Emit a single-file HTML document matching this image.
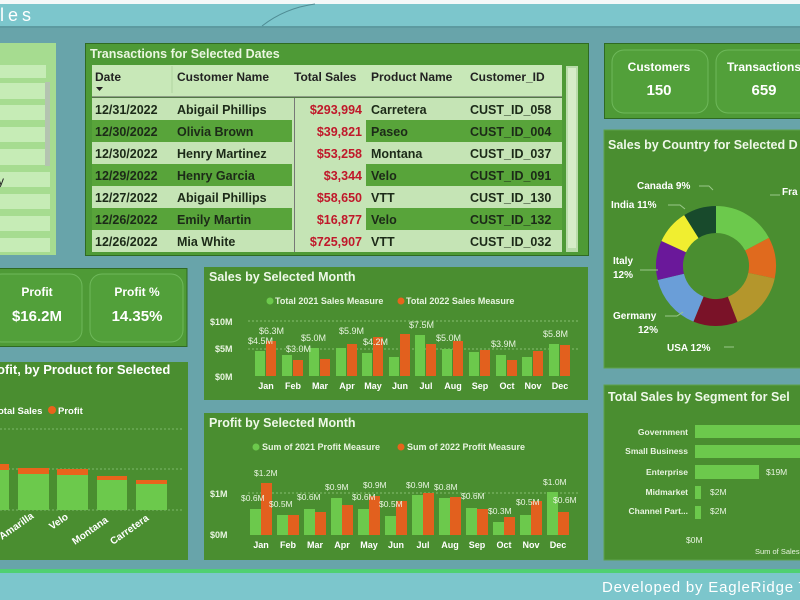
<!DOCTYPE html>
<html><head><meta charset="utf-8"><style>
html,body{margin:0;padding:0;width:800px;height:600px;overflow:hidden;background:#68a4aa}
svg{display:block;font-family:"Liberation Sans",sans-serif}
</style></head><body>
<svg width="800" height="600" viewBox="0 0 800 600" xmlns="http://www.w3.org/2000/svg">
<rect width="800" height="600" fill="#68a4aa"/>
<rect y="0" width="800" height="4" fill="#f4f8f8"/>
<rect y="4" width="800" height="22" fill="#7cc6cc"/>
<rect y="26" width="800" height="2" fill="#5d9aa0"/>
<path d="M262,26 Q285,8 315,4" stroke="#4f8c94" fill="none" stroke-width="1"/>
<text x="0" y="21" fill="#fff" font-size="18" letter-spacing="4">les</text>

<!-- left slicer -->
<rect x="0" y="43" width="56" height="212" fill="#a6dc90"/>
<g fill="#c6ecb6">
<rect x="0" y="65" width="46" height="13"/><rect x="0" y="83" width="46" height="16"/><rect x="0" y="105" width="46" height="15"/><rect x="0" y="127" width="46" height="15"/><rect x="0" y="149" width="46" height="16"/><rect x="0" y="172" width="50" height="15"/><rect x="0" y="194" width="50" height="15"/><rect x="0" y="216" width="50" height="15"/><rect x="0" y="238" width="50" height="14"/>
</g>
<rect x="45" y="82" width="5" height="84" fill="#b4c4b0"/>
<text x="-2" y="185" font-size="12" fill="#222">y</text>

<!-- transactions -->
<rect x="85.5" y="43.5" width="503" height="212" fill="#4e9a36" stroke="#2f6a22"/>
<text x="90" y="58" font-size="12.5" font-weight="bold" fill="#eaf6e0">Transactions for Selected Dates</text>
<rect x="92" y="65" width="470" height="32" fill="#c8e8b8"/>
<line x1="172" y1="66" x2="172" y2="93" stroke="#b0d4a0"/>
<line x1="92" y1="97" x2="562" y2="97" stroke="#555"/>
<path d="M96,87 h7 l-3.5,4z" fill="#222"/>
<g font-size="12" font-weight="bold" fill="#222">
<text x="95" y="81">Date</text><text x="177" y="81">Customer Name</text><text x="294" y="81">Total Sales</text><text x="371" y="81">Product Name</text><text x="470" y="81">Customer_ID</text>
</g>
<g>
<rect x="92" y="98" width="470" height="22" fill="#c5e4b5"/>
<rect x="92" y="120" width="470" height="22" fill="#58a43a"/>
<rect x="92" y="142" width="470" height="22" fill="#c5e4b5"/>
<rect x="92" y="164" width="470" height="22" fill="#58a43a"/>
<rect x="92" y="186" width="470" height="22" fill="#c5e4b5"/>
<rect x="92" y="208" width="470" height="22" fill="#58a43a"/>
<rect x="92" y="230" width="470" height="22" fill="#c5e4b5"/>
<rect x="292" y="120" width="74" height="22" fill="#c5e4b5"/>
<rect x="292" y="164" width="74" height="22" fill="#c5e4b5"/>
<rect x="292" y="208" width="74" height="22" fill="#c5e4b5"/>
<line x1="294.5" y1="98" x2="294.5" y2="252" stroke="#777"/>
</g>
<g font-size="12.5" font-weight="bold" fill="#1c2a18">
<text x="95" y="114">12/31/2022</text><text x="177" y="114">Abigail Phillips</text><text x="371" y="114">Carretera</text><text x="470" y="114">CUST_ID_058</text>
<text x="95" y="136">12/30/2022</text><text x="177" y="136">Olivia Brown</text><text x="371" y="136">Paseo</text><text x="470" y="136">CUST_ID_004</text>
<text x="95" y="158">12/30/2022</text><text x="177" y="158">Henry Martinez</text><text x="371" y="158">Montana</text><text x="470" y="158">CUST_ID_037</text>
<text x="95" y="180">12/29/2022</text><text x="177" y="180">Henry Garcia</text><text x="371" y="180">Velo</text><text x="470" y="180">CUST_ID_091</text>
<text x="95" y="202">12/27/2022</text><text x="177" y="202">Abigail Phillips</text><text x="371" y="202">VTT</text><text x="470" y="202">CUST_ID_130</text>
<text x="95" y="224">12/26/2022</text><text x="177" y="224">Emily Martin</text><text x="371" y="224">Velo</text><text x="470" y="224">CUST_ID_132</text>
<text x="95" y="246">12/26/2022</text><text x="177" y="246">Mia White</text><text x="371" y="246">VTT</text><text x="470" y="246">CUST_ID_032</text>
</g>
<g font-size="12.5" font-weight="bold" fill="#c0182a" text-anchor="end">
<text x="362" y="114">$293,994</text><text x="362" y="136">$39,821</text><text x="362" y="158">$53,258</text><text x="362" y="180">$3,344</text><text x="362" y="202">$58,650</text><text x="362" y="224">$16,877</text><text x="362" y="246">$725,907</text>
</g>
<rect x="566" y="66" width="12" height="186" fill="#b9dcaa"/>
<rect x="568" y="68" width="8" height="180" fill="#d6ecc8"/>

<!-- right KPI -->
<rect x="604.5" y="43.5" width="200" height="75" fill="#4e9a36" stroke="#2f6a22"/>
<rect x="612" y="50" width="96" height="63" rx="12" fill="#52a03a" stroke="#6eb85a"/>
<rect x="716" y="50" width="96" height="63" rx="12" fill="#52a03a" stroke="#6eb85a"/>
<g fill="#fff" font-weight="bold" text-anchor="middle">
<text x="659" y="71" font-size="12">Customers</text><text x="659" y="95" font-size="15">150</text>
<text x="764" y="71" font-size="12">Transactions</text><text x="764" y="95" font-size="15">659</text>
</g>

<!-- left KPI -->
<rect x="-1" y="268.5" width="188" height="78" fill="#4e9a36" stroke="#2f6a22"/>
<rect x="-10" y="274" width="92" height="68" rx="12" fill="#52a03a" stroke="#6eb85a"/>
<rect x="90" y="274" width="93" height="68" rx="12" fill="#52a03a" stroke="#6eb85a"/>
<g fill="#fff" font-weight="bold" text-anchor="middle">
<text x="37" y="296" font-size="12">Profit</text><text x="37" y="321" font-size="15">$16.2M</text>
<text x="137" y="296" font-size="12">Profit %</text><text x="137" y="321" font-size="15">14.35%</text>
</g>

<!-- product chart -->
<rect x="0" y="362" width="188" height="198" fill="#4a8e30"/>
<text x="-3" y="374" font-size="13" font-weight="bold" fill="#fff">ofit, by Product for Selected</text>
<text x="-2" y="414" font-size="9.5" font-weight="bold" fill="#fff">otal Sales</text>
<circle cx="52" cy="410" r="4" fill="#e8641c"/>
<text x="58" y="414" font-size="9.5" font-weight="bold" fill="#fff">Profit</text>
<g stroke="#7cb86a" stroke-dasharray="2,2"><line x1="0" y1="429" x2="183" y2="429"/><line x1="0" y1="469" x2="183" y2="469"/><line x1="0" y1="510" x2="183" y2="510"/></g>
<g fill="#6cc94c"><rect x="0" y="470" width="9" height="40"/><rect x="18" y="474" width="31" height="36"/><rect x="57" y="475" width="31" height="35"/><rect x="97" y="480" width="30" height="30"/><rect x="136" y="484" width="31" height="26"/></g>
<g fill="#e8641c"><rect x="0" y="464" width="9" height="6"/><rect x="18" y="468" width="31" height="6"/><rect x="57" y="469" width="31" height="6"/><rect x="97" y="476" width="30" height="4"/><rect x="136" y="480" width="31" height="4"/></g>
<g font-size="10" font-weight="bold" fill="#fff">
<text transform="translate(2,540) rotate(-35)">Amarilla</text>
<text transform="translate(52,530) rotate(-35)">Velo</text>
<text transform="translate(75,545) rotate(-35)">Montana</text>
<text transform="translate(113,545) rotate(-35)">Carretera</text>
</g>

<!-- sales by month -->
<rect x="204" y="267" width="384" height="133" fill="#4a8e30"/>
<text x="209" y="281" font-size="12.5" font-weight="bold" fill="#eef8e8">Sales by Selected Month</text>
<g font-size="9" font-weight="bold" fill="#e8f4e0">
<circle cx="270" cy="301" r="3.5" fill="#6cc94c"/><text x="275" y="304">Total 2021 Sales Measure</text>
<circle cx="401" cy="301" r="3.5" fill="#e8641c"/><text x="406" y="304">Total 2022 Sales Measure</text>
<text x="210" y="325">$10M</text><text x="215" y="352">$5M</text><text x="215" y="380">$0M</text>
</g>
<g stroke="#86bd70" stroke-dasharray="2,2"><line x1="248" y1="321" x2="580" y2="321"/><line x1="248" y1="349" x2="580" y2="349"/></g>
<g id="sb"></g>
<!-- profit by month -->
<rect x="204" y="413" width="384" height="147" fill="#4a8e30"/>
<text x="209" y="427" font-size="12.5" font-weight="bold" fill="#eef8e8">Profit by Selected Month</text>
<g font-size="9" font-weight="bold" fill="#e8f4e0">
<circle cx="256" cy="447" r="3.5" fill="#6cc94c"/><text x="262" y="450">Sum of 2021 Profit Measure</text>
<circle cx="401" cy="447" r="3.5" fill="#e8641c"/><text x="407" y="450">Sum of 2022 Profit Measure</text>
<text x="210" y="497">$1M</text><text x="210" y="538">$0M</text>
</g>
<line x1="248" y1="493" x2="580" y2="493" stroke="#86bd70" stroke-dasharray="2,2"/>

<!-- sales bars: base 376, 5.5px per M -->
<g fill="#6cc94c">
<rect x="255" y="351" width="10" height="25"/><rect x="282" y="355" width="10" height="21"/><rect x="309" y="348" width="10" height="28"/><rect x="336" y="348" width="10" height="28"/><rect x="362" y="353" width="10" height="23"/><rect x="389" y="357" width="10" height="19"/><rect x="415" y="335" width="10" height="41"/><rect x="442" y="349" width="10" height="27"/><rect x="469" y="352" width="10" height="24"/><rect x="496" y="355" width="10" height="21"/><rect x="522" y="357" width="10" height="19"/><rect x="549" y="344" width="10" height="32"/>
</g>
<g fill="#e2601e">
<rect x="266" y="341" width="10" height="35"/><rect x="293" y="360" width="10" height="16"/><rect x="320" y="359" width="10" height="17"/><rect x="347" y="344" width="10" height="32"/><rect x="373" y="337" width="10" height="39"/><rect x="400" y="334" width="10" height="42"/><rect x="426" y="344" width="10" height="32"/><rect x="453" y="341" width="10" height="35"/><rect x="480" y="350" width="10" height="26"/><rect x="507" y="360" width="10" height="16"/><rect x="533" y="351" width="10" height="25"/><rect x="560" y="345" width="10" height="31"/>
</g>
<g font-size="9" fill="#e8f4e0">
<text x="248" y="344">$4.5M</text><text x="259" y="334">$6.3M</text><text x="286" y="352">$3.0M</text><text x="301" y="341">$5.0M</text><text x="339" y="334">$5.9M</text><text x="363" y="345">$4.2M</text><text x="409" y="328">$7.5M</text><text x="436" y="341">$5.0M</text><text x="491" y="347">$3.9M</text><text x="543" y="337">$5.8M</text>
</g>
<g font-size="9" font-weight="bold" fill="#fff" text-anchor="middle">
<text x="266" y="389">Jan</text><text x="293" y="389">Feb</text><text x="320" y="389">Mar</text><text x="347" y="389">Apr</text><text x="373" y="389">May</text><text x="400" y="389">Jun</text><text x="426" y="389">Jul</text><text x="453" y="389">Aug</text><text x="480" y="389">Sep</text><text x="507" y="389">Oct</text><text x="533" y="389">Nov</text><text x="560" y="389">Dec</text>
</g>

<!-- profit bars: base 535, 42px per M -->
<g fill="#6cc94c">
<rect x="250" y="509" width="11" height="26"/><rect x="277" y="515" width="11" height="20"/><rect x="304" y="509" width="11" height="26"/><rect x="331" y="498" width="11" height="37"/><rect x="358" y="509" width="11" height="26"/><rect x="385" y="516" width="11" height="19"/><rect x="412" y="495" width="11" height="40"/><rect x="439" y="498" width="11" height="37"/><rect x="466" y="508" width="11" height="27"/><rect x="493" y="522" width="11" height="13"/><rect x="520" y="515" width="11" height="20"/><rect x="547" y="492" width="11" height="43"/>
</g>
<g fill="#e2601e">
<rect x="261" y="483" width="11" height="52"/><rect x="288" y="515" width="11" height="20"/><rect x="315" y="512" width="11" height="23"/><rect x="342" y="505" width="11" height="30"/><rect x="369" y="496" width="11" height="39"/><rect x="396" y="501" width="11" height="34"/><rect x="423" y="493" width="11" height="42"/><rect x="450" y="497" width="11" height="38"/><rect x="477" y="509" width="11" height="26"/><rect x="504" y="517" width="11" height="18"/><rect x="531" y="501" width="11" height="34"/><rect x="558" y="512" width="11" height="23"/>
</g>
<g font-size="8.5" fill="#e8f4e0">
<text x="241" y="501">$0.6M</text><text x="254" y="476">$1.2M</text><text x="269" y="507">$0.5M</text><text x="297" y="500">$0.6M</text><text x="325" y="490">$0.9M</text><text x="352" y="500">$0.6M</text><text x="363" y="488">$0.9M</text><text x="379" y="507">$0.5M</text><text x="406" y="488">$0.9M</text><text x="434" y="490">$0.8M</text><text x="461" y="499">$0.6M</text><text x="488" y="514">$0.3M</text><text x="516" y="505">$0.5M</text><text x="543" y="485">$1.0M</text><text x="553" y="503">$0.6M</text>
</g>
<g font-size="9" font-weight="bold" fill="#fff" text-anchor="middle">
<text x="261" y="548">Jan</text><text x="288" y="548">Feb</text><text x="315" y="548">Mar</text><text x="342" y="548">Apr</text><text x="369" y="548">May</text><text x="396" y="548">Jun</text><text x="423" y="548">Jul</text><text x="450" y="548">Aug</text><text x="477" y="548">Sep</text><text x="504" y="548">Oct</text><text x="531" y="548">Nov</text><text x="558" y="548">Dec</text>
</g>

<!-- country pie -->
<rect x="604" y="130" width="200" height="238" fill="#4a8e30" stroke="#5ea24a"/>
<text x="608" y="149" font-size="12.5" font-weight="bold" fill="#eef8e8">Sales by Country for Selected D</text>
<g transform="translate(716,266)">
<path d="M0,-60 A60,60 0 0 1 52.98,-28.17 L29.14,-15.49 A33,33 0 0 0 0,-33Z" fill="#6cc94c"/>
<path d="M52.98,-28.17 A60,60 0 0 1 58.69,12.47 L32.28,6.86 A33,33 0 0 0 29.14,-15.49Z" fill="#e06a1e"/>
<path d="M58.69,12.47 A60,60 0 0 1 21.5,56.0 L11.83,30.81 A33,33 0 0 0 32.28,6.86Z" fill="#b4962c"/>
<path d="M21.5,56.0 A60,60 0 0 1 -22.59,55.59 L-12.42,30.57 A33,33 0 0 0 11.83,30.81Z" fill="#7a1228"/>
<path d="M-22.59,55.59 A60,60 0 0 1 -58.34,14.02 L-32.09,7.71 A33,33 0 0 0 -12.42,30.57Z" fill="#6a9ed8"/>
<path d="M-58.34,14.02 A60,60 0 0 1 -54.52,-25.05 L-29.99,-13.78 A33,33 0 0 0 -32.09,7.71Z" fill="#6a189a"/>
<path d="M-54.52,-25.05 A60,60 0 0 1 -31.79,-50.88 L-17.49,-27.99 A33,33 0 0 0 -29.99,-13.78Z" fill="#f0ee30"/>
<path d="M-31.79,-50.88 A60,60 0 0 1 0,-60 L0,-33 A33,33 0 0 0 -17.49,-27.99Z" fill="#184a2c"/>
</g>
<g font-size="10" font-weight="bold" fill="#fff">
<text x="637" y="189">Canada 9%</text><text x="611" y="208">India 11%</text><text x="613" y="264">Italy</text><text x="613" y="278">12%</text><text x="613" y="319">Germany</text><text x="638" y="333">12%</text><text x="667" y="351">USA 12%</text><text x="782" y="195">Fra</text>
</g>
<g stroke="#9ac88a" fill="none"><path d="M699,186h10l4,4"/><path d="M668,205h12l5,4"/><path d="M640,270h18"/><path d="M665,316h12l6,-4"/><path d="M724,347h10"/><path d="M770,195h10"/></g>

<!-- segment -->
<rect x="604" y="385" width="200" height="175" fill="#4a8e30" stroke="#5ea24a"/>
<text x="608" y="401" font-size="12.5" font-weight="bold" fill="#eef8e8">Total Sales by Segment for Sel</text>
<g fill="#6cc94c"><rect x="695" y="425" width="110" height="13"/><rect x="695" y="445" width="110" height="13"/><rect x="695" y="465" width="64" height="14"/><rect x="695" y="486" width="6" height="13"/><rect x="695" y="506" width="6" height="13"/></g>
<g font-size="8.5" font-weight="bold" fill="#e8f4e0" text-anchor="end">
<text x="688" y="435">Government</text><text x="688" y="454">Small Business</text><text x="688" y="475">Enterprise</text><text x="688" y="495">Midmarket</text><text x="688" y="514">Channel Part...</text>
</g>
<g font-size="8.5" fill="#e8f4e0"><text x="766" y="475">$19M</text><text x="710" y="495">$2M</text><text x="710" y="514">$2M</text><text x="686" y="543">$0M</text><text x="755" y="554" font-size="7.5">Sum of Sales</text></g>

<!-- footer -->
<rect x="0" y="569" width="800" height="4" fill="#4fd072"/>
<rect x="0" y="573" width="800" height="27" fill="#7cc6cc"/>
<text x="602" y="592" font-size="15" fill="#fff" letter-spacing="0.8">Developed by EagleRidge T</text>
</svg>
</body></html>
